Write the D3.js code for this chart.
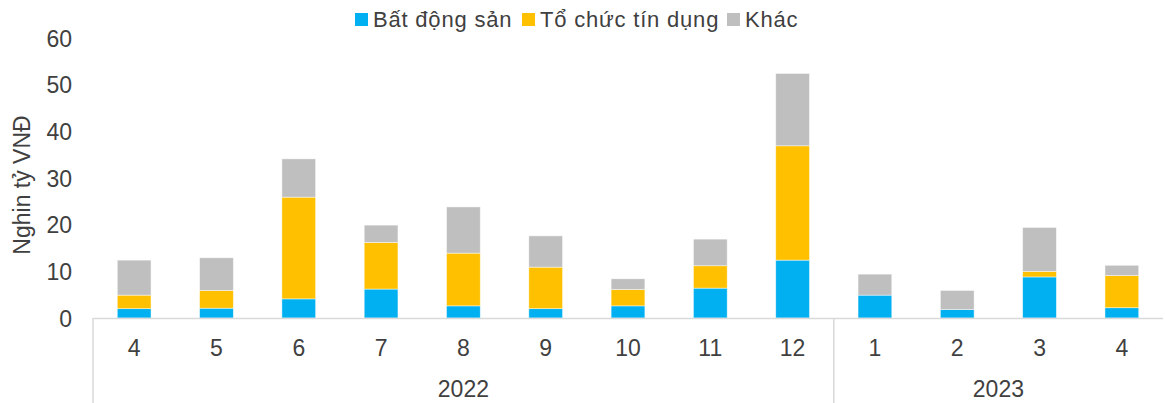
<!DOCTYPE html>
<html>
<head>
<meta charset="utf-8">
<script src="https://cdn.jsdelivr.net/npm/d3@7"></script>
<style>
  body { margin: 0; background: #fff; }
  svg text { font-family: "Liberation Sans", Arial, sans-serif; fill: #404040; }
</style>
</head>
<body>
<svg id="chart" width="1165" height="403"></svg>
<script>
// tháng và năm
const months = ["4", "5", "6", "7", "8", "9", "10", "11", "12", "1", "2", "3", "4"];
const monthYears = ["2022", "2022", "2022", "2022", "2022", "2022", "2022", "2022", "2022", "2023", "2023", "2023", "2023"];
const years = ["2022", "2023"];

// giá trị từng nhóm (nghìn tỷ VNĐ)
const batDongSan = [2.0, 2.1, 4.1, 6.2, 2.6, 2.0, 2.6, 6.4, 12.4, 4.9, 1.8, 8.8, 2.2];
const toChucTinDung = [2.9, 3.8, 21.8, 10.0, 11.3, 8.9, 3.5, 4.8, 24.5, 0, 0, 1.2, 6.9];
const khac = [7.5, 7.0, 8.2, 3.7, 9.9, 6.7, 2.3, 5.7, 15.5, 4.5, 4.1, 9.4, 2.2];

const seriesNames = ["Bất động sản", "Tổ chức tín dụng", "Khác"];
const seriesKeys = ["bds", "tctd", "khac"];
const colors = ["#00B0F0", "#FFC000", "#BFBFBF"];
const yTicks = [0, 10, 20, 30, 40, 50, 60];

const svg = d3.select("#chart");
const plotLeft = 93, plotRight = 1163, plotTop = 38, plotBottom = 318;
const fontSize = 23;

const keys = months.map((m, i) => monthYears[i] + "-" + m + "-" + i);
const table = keys.map((k, i) => ({
    key: k, bds: batDongSan[i], tctd: toChucTinDung[i], khac: khac[i]
}));

const x = d3.scaleBand()
    .domain(keys)
    .range([plotLeft, plotRight])
    .paddingInner(0.59)
    .paddingOuter(0.295);

const y = d3.scaleLinear()
    .domain([0, 60])
    .range([plotBottom, plotTop]);

const stacked = d3.stack().keys(seriesKeys)(table);

// cột chồng
svg.append("g")
    .selectAll("g")
    .data(stacked)
    .join("g")
    .attr("fill", (d, i) => colors[i])
    .selectAll("rect")
    .data(d => d)
    .join("rect")
    .attr("x", d => x(d.data.key))
    .attr("width", x.bandwidth())
    .attr("y", d => y(d[1]))
    .attr("height", d => y(d[0]) - y(d[1]))
    .attr("stroke", "#fff")
    .attr("stroke-opacity", 0.6)
    .attr("stroke-width", 0.75);

// trục y (chỉ nhãn)
const yAxis = svg.append("g")
    .attr("transform", "translate(" + plotLeft + ",0)")
    .call(d3.axisLeft(y).tickValues(yTicks).tickSize(0).tickPadding(21));
yAxis.select("path.domain").remove();
yAxis.selectAll("text")
    .attr("font-size", fontSize)
    .attr("dy", "0.36em");

svg.append("text")
    .attr("transform", "translate(30,185) rotate(-90)")
    .attr("text-anchor", "middle")
    .attr("font-size", fontSize)
    .text("Nghin tỷ VNĐ");

// trục x: tháng
const xAxis = svg.append("g")
    .attr("transform", "translate(0," + plotBottom + ")")
    .call(d3.axisBottom(x).tickSize(0).tickPadding(0).tickFormat((d, i) => months[i]));
xAxis.select("path.domain").remove();
xAxis.selectAll("text")
    .attr("font-size", fontSize)
    .attr("dy", 0)
    .attr("y", 38);

const axisColor = "#D9D9D9";
svg.append("line")
    .attr("x1", plotLeft).attr("x2", plotRight)
    .attr("y1", plotBottom + 0.5).attr("y2", plotBottom + 0.5)
    .attr("stroke", axisColor).attr("stroke-width", 1.5);

// nhóm năm
const yearGroups = years.map(yr => {
    const ks = keys.filter((k, i) => monthYears[i] === yr);
    const x0 = x(ks[0]) - x.step() * x.paddingInner() / 2;
    const x1 = x(ks[ks.length - 1]) + x.bandwidth() + x.step() * x.paddingInner() / 2;
    return { yr, x0: Math.max(plotLeft, x0), x1: Math.min(plotRight, x1) };
});

const sepXs = [plotLeft].concat(yearGroups.slice(0, -1).map(g => g.x1));
svg.selectAll("line.sep")
    .data(sepXs)
    .join("line")
    .attr("class", "sep")
    .attr("x1", d => d).attr("x2", d => d)
    .attr("y1", plotBottom).attr("y2", 403)
    .attr("stroke", axisColor).attr("stroke-width", 1.5);

svg.selectAll("text.year")
    .data(yearGroups)
    .join("text")
    .attr("class", "year")
    .attr("x", d => (d.x0 + d.x1) / 2)
    .attr("y", 397)
    .attr("text-anchor", "middle")
    .attr("font-size", fontSize)
    .text(d => d.yr);

// chú giải
const legendX = [355, 522, 727];
const legend = svg.append("g");
seriesNames.forEach((name, i) => {
    legend.append("rect")
        .attr("x", legendX[i]).attr("y", 13)
        .attr("width", 13).attr("height", 13)
        .attr("fill", colors[i]);
    legend.append("text")
        .attr("x", legendX[i] + 18).attr("y", 27)
        .attr("font-size", 22)
        .attr("letter-spacing", 0.8)
        .text(name);
});
</script>
</body>
</html>
